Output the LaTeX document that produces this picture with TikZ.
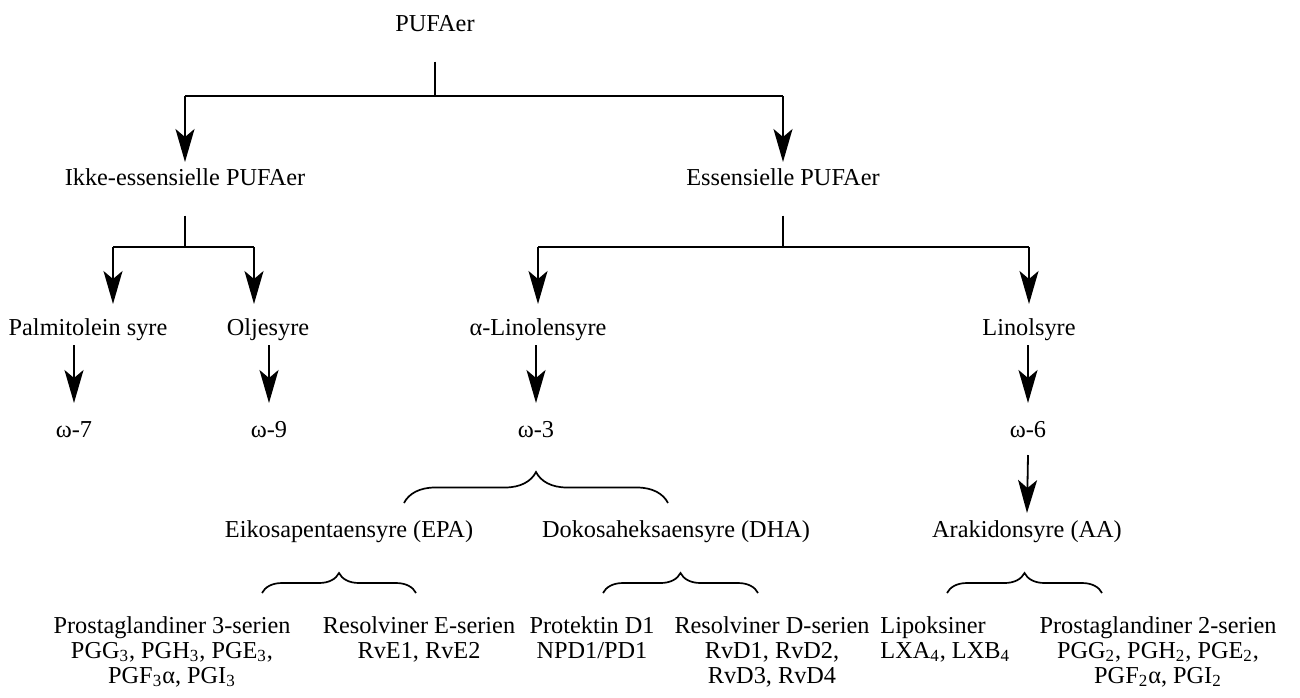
\documentclass[tikz,border=0pt]{standalone}
\usepackage{fontspec}
\setmainfont{Liberation Serif}
\usetikzlibrary{arrows.meta,calc,decorations.pathreplacing}

\begin{document}
\begin{tikzpicture}[x=0.5pt,y=-0.5pt,
  every node/.style={font=\fontsize{12.15pt}{12.5pt}\selectfont,inner sep=0pt,anchor=base},
  stem/.style={line width=0.9pt,shorten <=15pt},
  bar/.style={line width=1.4pt},
  arr/.style={-{Stealth[length=16.5pt,width=9.5pt,inset=4pt]},line width=0.9pt},
  brc/.style={decorate,decoration={brace,amplitude=#1},line width=0.85pt},
  list/.style={align=center,anchor=north}]
  \useasboundingbox (0,0) rectangle (1300,697);

  % top of the tree
  \node (pufa) at (435,31) {PUFAer};
  \node (ikke) at (185,185) {Ikke-essensielle PUFAer};
  \node (ess) at (783,185) {Essensielle PUFAer};

  \coordinate (jtop) at (435,96);
  \draw[stem] (pufa.south) -- (jtop);
  \draw[bar] (ikke |- jtop) -- (ess |- jtop);
  \draw[arr] (ikke |- jtop) -- ($(ikke.base)+(0,-23)$);
  \draw[arr] (ess |- jtop) -- ($(ess.base)+(0,-23)$);

  % fatty acids
  \node (pal) at (88,335) {Palmitolein syre};
  \node (olje) at (268,335) {Oljesyre};
  \node (alin) at (538,335) {α-Linolensyre};
  \node (lin) at (1029,335) {Linolsyre};
  \coordinate (tip2) at ($(pal.base)+(0,-31)$);

  \coordinate (jikke) at (185,247);
  \coordinate (ikL) at (113,247);
  \coordinate (ikR) at (254,247);
  \draw[stem] (ikke.south) -- (jikke);
  \draw[bar] (ikL) -- (ikR);
  \draw[arr] (ikL) -- (ikL |- tip2);
  \draw[arr] (ikR) -- (ikR |- tip2);

  \coordinate (jess) at (783,247);
  \draw[stem] (ess.south) -- (jess);
  \draw[bar] (alin |- jess) -- (lin |- jess);
  \draw[arr] (alin |- jess) -- (alin |- tip2);
  \draw[arr] (lin |- jess) -- (lin |- tip2);

  % omega families
  \node (w7) at (74,437) {ω-7};
  \node (w9) at (269,437) {ω-9};
  \node (w3) at (536,437) {ω-3};
  \node (w6) at (1028,437) {ω-6};
  \draw[arr] ($(w7 |- pal.base)+(0,10)$) -- ($(w7.base)+(0,-34)$);
  \draw[arr] ($(w9 |- olje.base)+(0,10)$) -- ($(w9.base)+(0,-34)$);
  \draw[arr] ($(w3 |- alin.base)+(0,10)$) -- ($(w3.base)+(0,-34)$);
  \draw[arr] ($(w6 |- lin.base)+(0,10)$) -- ($(w6.base)+(0,-34)$);

  \node (epa) at (349,537) {Eikosapentaensyre (EPA)};
  \node (dha) at (676,537) {Dokosaheksaensyre (DHA)};
  \node (aa) at (1027,537) {Arakidonsyre (AA)};
  \draw[brc=15.5pt] (404,503) -- (668,503);
  \draw[arr] ($(w6.base)+(0,18)$) -- ($(aa.base)+(0,-24)$);

  % mediators
  \node[list] (pg3) at (172,616) {Prostaglandiner 3-serien\\PGG\textsubscript{3}, PGH\textsubscript{3}, PGE\textsubscript{3},\\PGF\textsubscript{3}α, PGI\textsubscript{3}};
  \node[list] (rve) at (419,616) {Resolviner E-serien\\RvE1, RvE2};
  \node[list] (pd1) at (592,616) {Protektin D1\\NPD1/PD1};
  \node[list] (rvd) at (772,616) {Resolviner D-serien\\RvD1, RvD2,\\RvD3, RvD4};
  \node[list,align=left,anchor=north west] (lx) at (880,616) {Lipoksiner\\LXA\textsubscript{4}, LXB\textsubscript{4}};
  \node[list] (pg2) at (1158,616) {Prostaglandiner 2-serien\\PGG\textsubscript{2}, PGH\textsubscript{2}, PGE\textsubscript{2},\\PGF\textsubscript{2}α, PGI\textsubscript{2}};
  \draw[brc=10pt] (262,593) -- (416,593);
  \draw[brc=10pt] (603,593) -- (758,593);
  \draw[brc=10pt] (947,593) -- (1102,593);
\end{tikzpicture}
\end{document}
